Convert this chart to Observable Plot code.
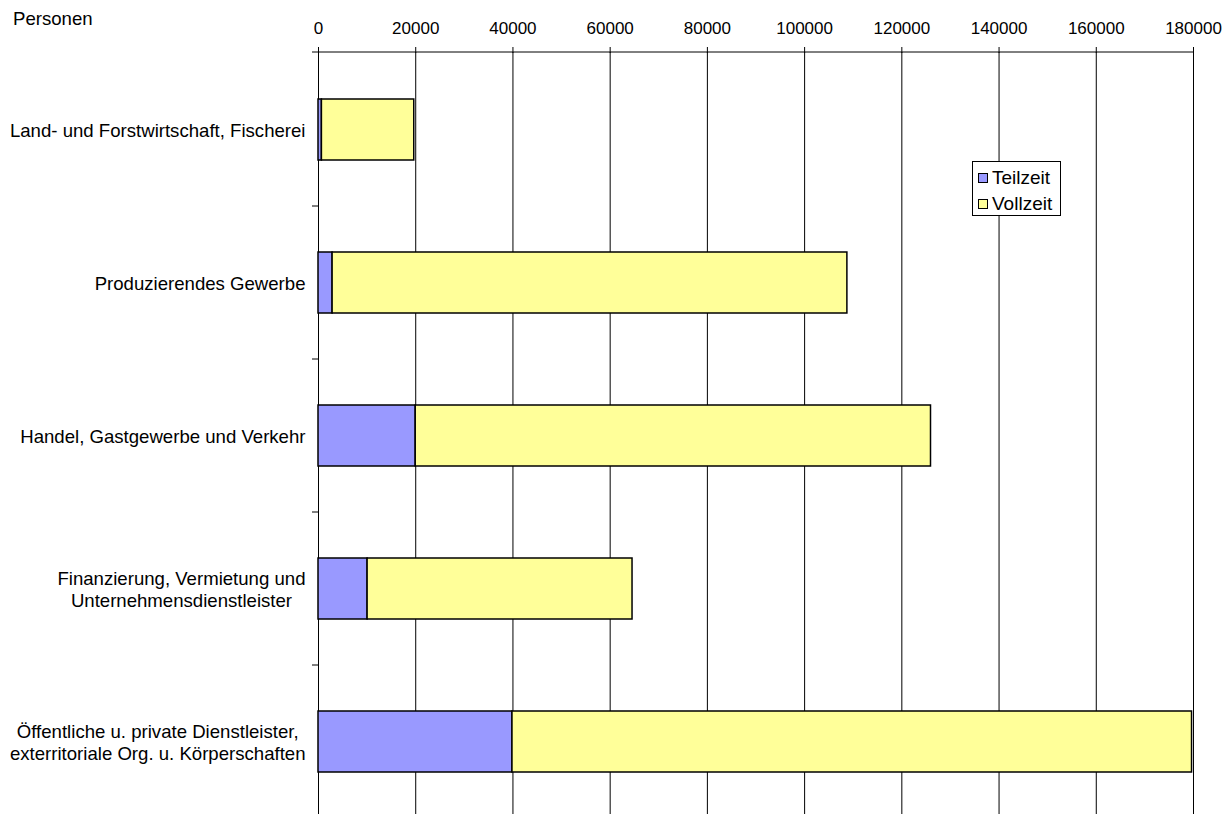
<!DOCTYPE html>
<html><head><meta charset="utf-8">
<script src="https://cdn.jsdelivr.net/npm/d3@7"></script>
<script src="https://cdn.jsdelivr.net/npm/@observablehq/plot@0.6"></script>
<style>
body{margin:0;background:#fff;font-family:"Liberation Sans",Arial,sans-serif;color:#000;}
#wrap{position:relative;width:1226px;height:814px;overflow:hidden;}
#unit{position:absolute;left:13px;top:8px;font-size:18.6px;}
#legend{position:absolute;left:972px;top:161px;width:89px;height:55px;box-sizing:border-box;border:1px solid #000;background:#fff;font-size:19px;padding:3px 0 0 5px;white-space:nowrap;}
#legend .row{display:flex;align-items:center;height:26px;}
#legend .sw{width:10px;height:10px;border:1px solid #000;margin-right:4px;box-sizing:border-box;flex:none;}
</style>
</head><body>
<div id="wrap">
<div id="chart"></div>
<div id="unit">Personen</div>
<div id="legend"></div>
</div>
<script>
const categories = [
  "Land- und Forstwirtschaft, Fischerei",
  "Produzierendes Gewerbe",
  "Handel, Gastgewerbe und Verkehr",
  "Finanzierung, Vermietung und\nUnternehmensdienstleister",
  "Öffentliche u. private Dienstleister,\nexterritoriale Org. u. Körperschaften"
];
const series = ["Teilzeit", "Vollzeit"];
const seriesColors = ["#9999ff", "#ffff99"];
const teilzeit = [700, 2900, 20000, 10100, 39900];
const vollzeit = [19000, 105900, 106000, 54500, 139800];
const xTicks = [0, 20000, 40000, 60000, 80000, 100000, 120000, 140000, 160000, 180000];

const table = categories.flatMap((c, i) => [
  {cat: c, typ: series[0], value: teilzeit[i]},
  {cat: c, typ: series[1], value: vollzeit[i]}
]);

const chart = Plot.plot({
  width: 1226, height: 814,
  marginTop: 52, marginLeft: 318, marginRight: 33, marginBottom: 0,
  style: {fontFamily: "Liberation Sans, Arial, sans-serif", fontSize: "17px", background: "white", color: "black"},
  x: {domain: [0, 180000]},
  y: {domain: categories, range: [52, 818.5], paddingInner: 0.6, paddingOuter: 0.3, label: null},
  color: {domain: series, range: seriesColors},
  marks: [
    Plot.ruleX(xTicks, {stroke: "#000", strokeWidth: 1}),
    Plot.barX(table, Plot.stackX({y: "cat", x: "value", fill: "typ", stroke: "#000", strokeWidth: 1.5})),
    Plot.axisX(xTicks, {anchor: "top", tickSize: 6, tickPadding: 13, tickFormat: d => String(d), fontSize: 17, label: null}),
    Plot.axisY({anchor: "left", tickSize: 0, tickPadding: 13, fontSize: 18.6, lineHeight: 1.2, label: null}),
    (index, scales, values, dimensions) => {
      const g = d3.create("svg:g");
      const x = scales.x, y = scales.y;
      const bw = y.bandwidth ? y.bandwidth() : 0;
      const x0 = x(0);
      g.append("line")
        .attr("x1", x0 - 6).attr("x2", x(180000))
        .attr("y1", dimensions.marginTop).attr("y2", dimensions.marginTop)
        .attr("stroke", "#000");
      for (let i = 1; i < categories.length; i++) {
        const yy = (y(categories[i - 1]) + y(categories[i])) / 2 + bw / 2;
        g.append("line")
          .attr("x1", x0 - 6).attr("x2", x0)
          .attr("y1", yy).attr("y2", yy)
          .attr("stroke", "#000");
      }
      return g.node();
    }
  ]
});
document.getElementById("chart").appendChild(chart);

// center multi-line category labels within their block (right edge kept)
chart.querySelectorAll('g[aria-label="y-axis tick label"] text').forEach(t => {
  const spans = t.querySelectorAll("tspan");
  if (spans.length > 1) {
    let w = 0;
    spans.forEach(s => { w = Math.max(w, s.getComputedTextLength()); });
    t.setAttribute("text-anchor", "middle");
    spans.forEach(s => s.setAttribute("x", -w / 2));
  }
});

const legend = document.getElementById("legend");
series.forEach((s, i) => {
  const row = document.createElement("div");
  row.className = "row";
  const sw = document.createElement("div");
  sw.className = "sw";
  sw.style.background = seriesColors[i];
  const tx = document.createElement("span");
  tx.textContent = s;
  row.appendChild(sw); row.appendChild(tx);
  legend.appendChild(row);
});
</script>
</body></html>
